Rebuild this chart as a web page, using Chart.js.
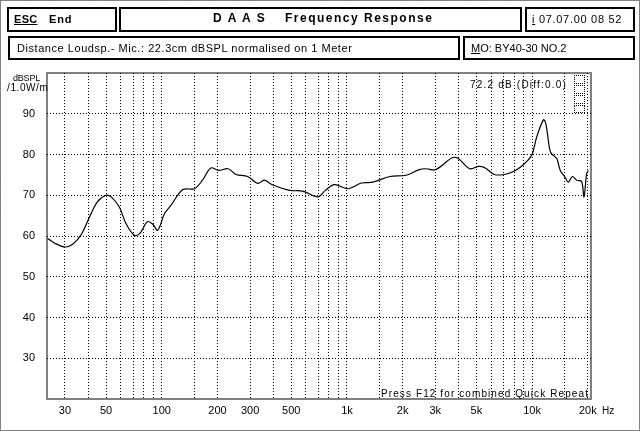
<!DOCTYPE html>
<html>
<head>
<meta charset="utf-8">
<script src="https://cdn.jsdelivr.net/npm/chart.js@4/dist/chart.umd.min.js"></script>
<style>
  html, body { margin: 0; padding: 0; background: #fff; overflow: hidden; }
  #wrap { position: relative; width: 640px; height: 431px; font-family: 'Liberation Sans', Arial, sans-serif; color: #000; }
  canvas { position: absolute; left: 0; top: 0; }
  .box { position: absolute; border: 2px solid #000; box-sizing: border-box; background: #fff; }
  .t { position: absolute; white-space: pre; font-size: 11px; line-height: 12px; }
  .b { font-weight: bold; }
  .icon { position: absolute; left: 574px; width: 11px; border: 1px dotted #000; box-sizing: border-box; }
</style>
</head>
<body>
<div id="wrap">
  <canvas id="freqResp" width="640" height="431"></canvas>

  <div class="box" style="left:7px;top:7px;width:110px;height:25px"></div>
  <div class="box" style="left:119px;top:7px;width:403px;height:25px"></div>
  <div class="box" style="left:525px;top:7px;width:110px;height:25px"></div>
  <div class="box" style="left:8px;top:36px;width:452px;height:24px"></div>
  <div class="box" style="left:463px;top:36px;width:172px;height:24px"></div>

  <div class="t b" style="left:14px;top:13px;letter-spacing:0.3px"><u>ESC</u></div>
  <div class="t b" style="left:49px;top:13px;letter-spacing:0.8px">End</div>
  <div class="t b" style="left:213px;top:12px;font-size:12px;letter-spacing:1.6px">D A A S</div>
  <div class="t b" style="left:285px;top:12px;font-size:12px;letter-spacing:1.5px">Frequency Response</div>
  <div class="t" style="left:532px;top:13px;letter-spacing:0.7px"><u>i</u> 07.07.00 08 52</div>
  <div class="t" style="left:17px;top:42px;letter-spacing:0.55px">Distance Loudsp.- Mic.: 22.3cm dBSPL normalised on 1 Meter</div>
  <div class="t" style="left:471px;top:42px"><u>M</u>O: BY40-30 NO.2</div>

  <div class="t" style="left:13px;top:72px;font-size:9px;letter-spacing:-0.2px">dBSPL</div>
  <div class="t" style="left:7px;top:82px;font-size:10px;letter-spacing:0.6px">/1.0W/m</div>
  <div class="t" style="left:470px;top:79px;font-size:10px;letter-spacing:1.2px">72.2 dB (Diff:0.0)</div>
  <div class="t" style="left:381px;top:388px;font-size:10px;letter-spacing:1.1px">Press F12 for combined Quick Repeat</div>
  <div class="t" style="left:602px;top:405px;font-size:10px">Hz</div>

  <div class="icon" style="top:75px;height:9px"></div>
  <div class="icon" style="top:85px;height:9px"></div>
  <div class="icon" style="top:95px;height:9px"></div>
  <div class="icon" style="top:105px;height:8px"></div>
</div>

<script>
// measured response (Hz / dB SPL)
const freqs = [24.2, 26.3, 30, 33, 36.6, 40.4, 44.9, 50, 53.3, 59, 64, 71, 76, 83.6, 89.5, 95,
  103.5, 112, 130, 150, 166, 184, 203, 228, 252, 291, 330, 358, 398, 490, 578, 697, 765, 857,
  1018, 1195, 1380, 1707, 2089, 2456, 2668, 3018, 3700, 3991, 4600, 5120, 5530, 6250, 7070,
  7990, 8700, 9500, 10000, 10590, 11500, 11800, 12100, 12600, 13580, 14200, 15120, 15700,
  16500, 17400, 18500, 19060, 19700, 20100];
const spl = [59.4, 58.3, 57.3, 58.0, 60.2, 64.3, 68.4, 70.0, 69.6, 67.1, 63.1, 60.2, 60.6, 63.5, 62.9, 61.4,
  65.5, 67.5, 71.4, 71.6, 73.7, 76.7, 76.1, 76.5, 75.1, 74.6, 72.9, 73.7, 72.5, 71.2, 71.0, 69.6, 71.2, 72.6,
  71.6, 73.0, 73.2, 74.6, 74.9, 76.3, 76.5, 76.3, 79.2, 79.0, 76.5, 77.1, 76.8, 75.1, 75.1,
  75.9, 77.0, 78.6, 80.0, 84.3, 88.5, 88.0, 85.1, 80.5, 79.0, 76.1, 74.3, 73.2,
  74.6, 73.7, 73.4, 69.6, 75.3, 76.1];

const gridFreqs = [30, 40, 50, 60, 70, 80, 90, 100, 150, 200, 300, 400, 500, 600, 700, 800, 900,
  1000, 1500, 2000, 3000, 4000, 5000, 6000, 7000, 8000, 9000, 10000, 15000, 20000];
const labelFreqs = [30, 50, 100, 200, 300, 500, 1000, 2000, 3000, 5000, 10000, 20000];
const labelTexts = ['30', '50', '100', '200', '300', '500', '1k', '2k', '3k', '5k', '10k', '20k'];
const dbTicks = [30, 40, 50, 60, 70, 80, 90];

// checkered frames like the original screen
const frames = {
  id: 'frames',
  afterDraw(chart) {
    const c = chart.ctx, a = chart.chartArea;
    c.save();
    c.strokeStyle = '#000';
    c.lineWidth = 1;
    c.setLineDash([1, 1]);
    function rect(l, t, r, b, off) {
      c.lineDashOffset = off;
      c.strokeRect(l + 0.5, t + 0.5, r - l - 1, b - t - 1);
    }
    rect(a.left - 1, a.top - 1, a.right + 1, a.bottom + 1, 0);
    rect(a.left, a.top, a.right, a.bottom, 1);
    rect(0, 0, 640, 431, 0);
    c.restore();
  }
};

const ctx = document.getElementById('freqResp').getContext('2d');

new Chart(ctx, {
  type: 'line',
  data: {
    datasets: [{
      data: freqs.map((f, i) => ({ x: f, y: spl[i] })),
      borderColor: '#000',
      borderWidth: 1.2,
      pointRadius: 0,
      tension: 0.35,
      fill: false
    }]
  },
  plugins: [frames],
  options: {
    responsive: false,
    animation: false,
    layout: { padding: { left: 0, top: 73, right: 49, bottom: 0 } },
    plugins: { legend: { display: false }, tooltip: { enabled: false } },
    scales: {
      x: {
        type: 'logarithmic',
        min: 24,
        max: 20800,
        afterBuildTicks: s => { s.ticks = gridFreqs.map(v => ({ value: v })); },
        afterFit: s => { s.height = 32; },
        grid: { color: '#000', lineWidth: 1, drawTicks: false },
        border: { display: false, dash: [1, 2] },
        ticks: {
          autoSkip: false,
          maxRotation: 0,
          padding: 5,
          color: '#000',
          font: { family: 'Liberation Sans', size: 11 },
          callback: v => {
            const i = labelFreqs.indexOf(v);
            return i >= 0 ? labelTexts[i] : '';
          }
        }
      },
      y: {
        min: 20,
        max: 100,
        afterBuildTicks: s => { s.ticks = dbTicks.map(v => ({ value: v })); },
        afterFit: s => { s.width = 47; },
        grid: { color: '#000', lineWidth: 1, drawTicks: false },
        border: { display: false, dash: [1, 2] },
        ticks: {
          padding: 12,
          color: '#000',
          font: { family: 'Liberation Sans', size: 11 }
        }
      }
    }
  }
});
</script>
</body>
</html>
